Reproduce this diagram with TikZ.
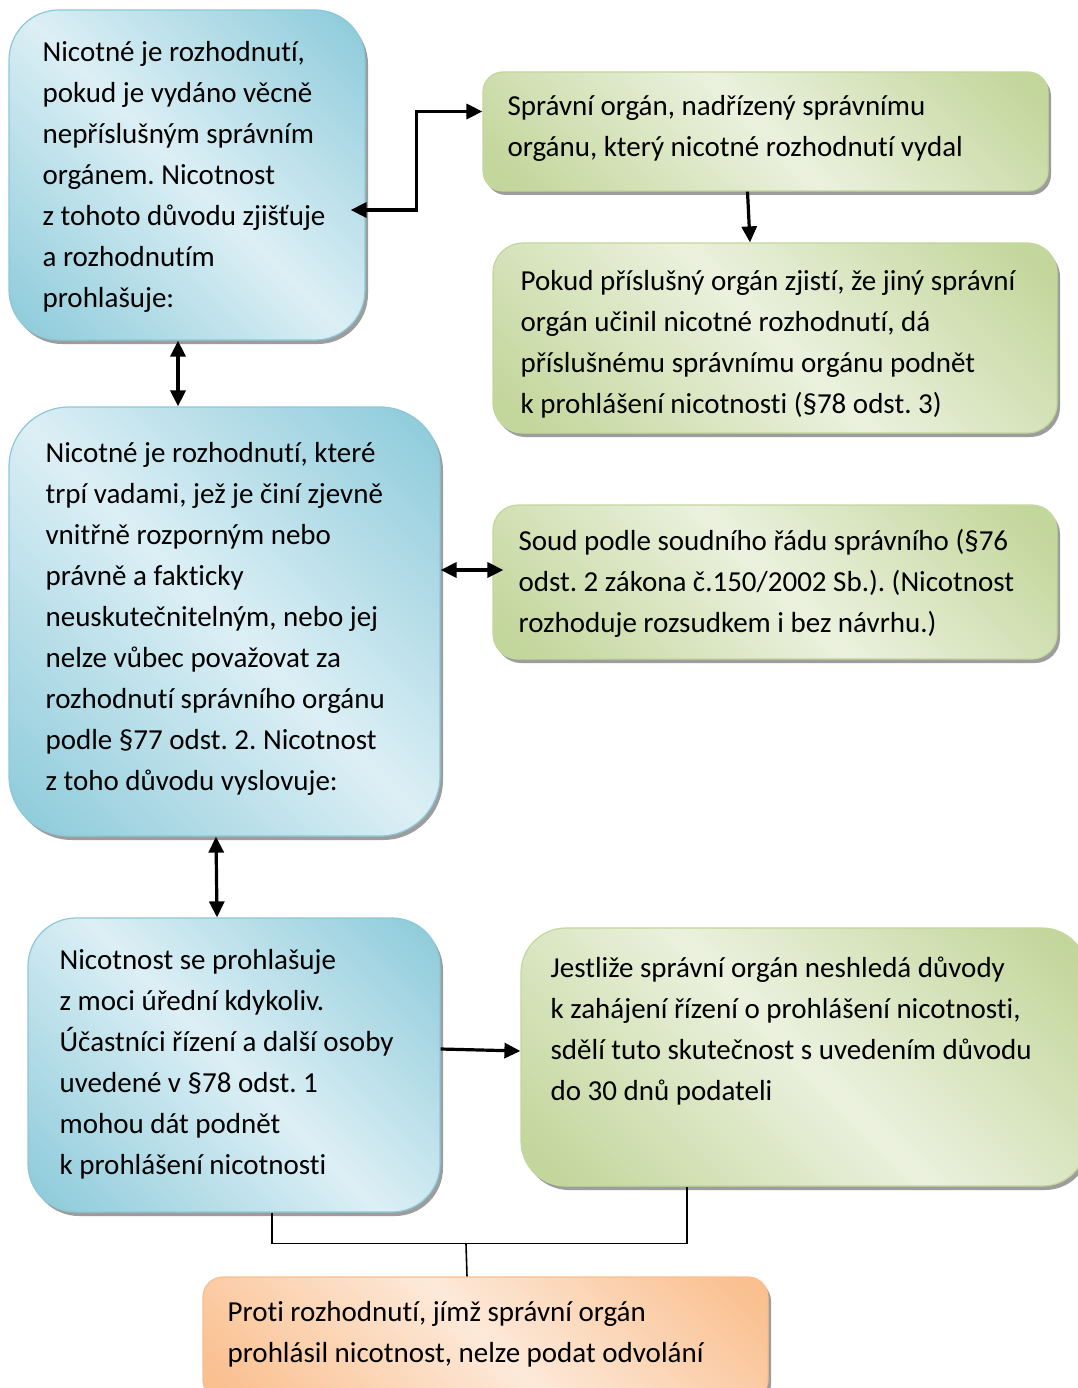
\documentclass[tikz,border=0pt]{standalone}
\usepackage{fontspec}
\setmainfont{Carlito}[Ligatures=NoCommon]
\usetikzlibrary{arrows.meta,shadows}
\frenchspacing

\definecolor{bluedark}{HTML}{92CDDC}
\definecolor{bluelight}{HTML}{DCEFF5}
\definecolor{blueline}{HTML}{8CC8D8}
\definecolor{greendark}{HTML}{C3D69B}
\definecolor{greenlight}{HTML}{EBF1DE}
\definecolor{greenline}{HTML}{C3D69B}
\definecolor{orangedark}{HTML}{FAC090}
\definecolor{orangelight}{HTML}{FDE9D9}
\definecolor{orangeline}{HTML}{F9BE8E}

\pgfdeclarehorizontalshading{bluediag}{100bp}{color(0bp)=(bluedark); color(18bp)=(bluedark); color(50bp)=(bluelight); color(82bp)=(bluedark); color(100bp)=(bluedark)}
\pgfdeclarehorizontalshading{greendiag}{100bp}{color(0bp)=(greendark); color(18bp)=(greendark); color(50bp)=(greenlight); color(82bp)=(greendark); color(100bp)=(greendark)}
\pgfdeclarehorizontalshading{orangediag}{100bp}{color(0bp)=(orangedark); color(18bp)=(orangedark); color(50bp)=(orangelight); color(82bp)=(orangedark); color(100bp)=(orangedark)}

\tikzset{
  box/.style={line width=1.2pt, shade, shading angle=45,
    drop shadow={shadow xshift=3pt, shadow yshift=-4pt, fill=black!70, opacity=0.55}},
  bluebox/.style={box, shading=bluediag, draw=blueline},
  greenbox/.style={box, shading=greendiag, draw=greenline},
  orangebox/.style={box, shading=orangediag, draw=orangeline},
  txt/.style={align=left, inner sep=0pt, anchor=base west, font=\fontsize{29}{41}\selectfont},
  link/.style={line width=3.2pt, -{Triangle[length=16pt, width=15pt]}},
  biglink/.style={line width=3.2pt, {Triangle[length=16pt, width=15pt]}-{Triangle[length=16pt, width=15pt]}},
  joint/.style={line width=1.6pt}
}

\begin{document}
\begin{tikzpicture}[x=1pt, y=-1pt]
  \useasboundingbox (0,0) rectangle (1077,1388);

  % boxes
  \node[bluebox, rounded corners=50pt, minimum width=356pt, minimum height=330pt] (a) at (187,175) {};
  \node[greenbox, rounded corners=20pt, minimum width=565pt, minimum height=119pt] (b) at (765.5,131.5) {};
  \node[greenbox, rounded corners=30pt, minimum width=564pt, minimum height=190pt] (c) at (775,338) {};
  \node[bluebox, rounded corners=60pt, minimum width=431pt, minimum height=429pt] (d) at (224.5,621.5) {};
  \node[greenbox, rounded corners=25pt, minimum width=564pt, minimum height=154pt] (e) at (775,582) {};
  \node[bluebox, rounded corners=48pt, minimum width=412pt, minimum height=294pt] (f) at (234,1065) {};
  \node[greenbox, rounded corners=45pt, minimum width=566pt, minimum height=258pt] (g) at (804,1057) {};
  \node[orangebox, rounded corners=20pt, minimum width=565pt, minimum height=123pt] (h) at (485.5,1338.5) {};

  % texts (placed by the baseline of the last line)
  \node[txt] (at) at ([shift={(34,298)}]a.north west) {Nicotné je rozhodnutí,\\pokud je vydáno věcně\\nepříslušným správním\\orgánem. Nicotnost\\z tohoto důvodu zjišťuje\\a rozhodnutím\\prohlašuje:};
  \node[txt] (bt) at ([shift={(25,85)}]b.north west) {Správní orgán, nadřízený správnímu\\orgánu, který nicotné rozhodnutí vydal};
  \node[txt] (ct) at ([shift={(28,171)}]c.north west) {Pokud příslušný orgán zjistí, že jiný správní\\orgán učinil nicotné rozhodnutí, dá\\příslušnému správnímu orgánu podnět\\k prohlášení nicotnosti (§78 odst. 3)};
  \node[txt] (dt) at ([shift={(37,384)}]d.north west) {Nicotné je rozhodnutí, které\\trpí vadami, jež je činí zjevně\\vnitřně rozporným nebo\\právně a fakticky\\neuskutečnitelným, nebo jej\\nelze vůbec považovat za\\rozhodnutí správního orgánu\\podle §77 odst. 2. Nicotnost\\z toho důvodu vyslovuje:};
  \node[txt] (et) at ([shift={(26,128)}]e.north west) {Soud podle soudního řádu správního (§76\\odst. 2 zákona č.150/2002 Sb.). (Nicotnost\\rozhoduje rozsudkem i bez návrhu.)};
  \node[txt] (ft) at ([shift={(32,257)}]f.north west) {Nicotnost se prohlašuje\\z moci úřední kdykoliv.\\Účastníci řízení a další osoby\\uvedené v §78 odst. 1\\mohou dát podnět\\k prohlášení nicotnosti};
  \node[txt] (gt) at ([shift={(30,173)}]g.north west) {Jestliže správní orgán neshledá důvody\\k zahájení řízení o prohlášení nicotnosti,\\sdělí tuto skutečnost s uvedením důvodu\\do 30 dnů podateli};
  \node[txt] (ht) at ([shift={(25,86)}]h.north west) {Proti rozhodnutí, jímž správní orgán\\prohlásil nicotnost, nelze podat odvolání};

  % connectors
  \draw[biglink] ([xshift=-15pt,yshift=-35pt]a.east) -- ++(66,0) |- ([yshift=20pt]b.west);
  \draw[link] ([xshift=-18pt]b.south) -- ([xshift=-25pt]c.north);
  \draw[biglink] ([xshift=-9pt]a.south) -- ([xshift=-46.5pt]d.north);
  \draw[biglink] ([yshift=51.5pt]d.east) -- ([xshift=11pt,yshift=12pt]e.west);
  \draw[biglink] ([xshift=-8.5pt]d.south) -- ([xshift=-17pt]f.north);
  \draw[link] ([yshift=16pt]f.east) -- ([yshift=6pt]g.west);
  \draw[joint] ([xshift=38pt]f.south) -- ++(0,31) coordinate (jl) -| ([xshift=-117pt]g.south);
  \coordinate (jn) at ([xshift=194pt]jl);
  \draw[joint] (jn) -- ([xshift=-18.5pt]h.north);
\end{tikzpicture}
\end{document}
